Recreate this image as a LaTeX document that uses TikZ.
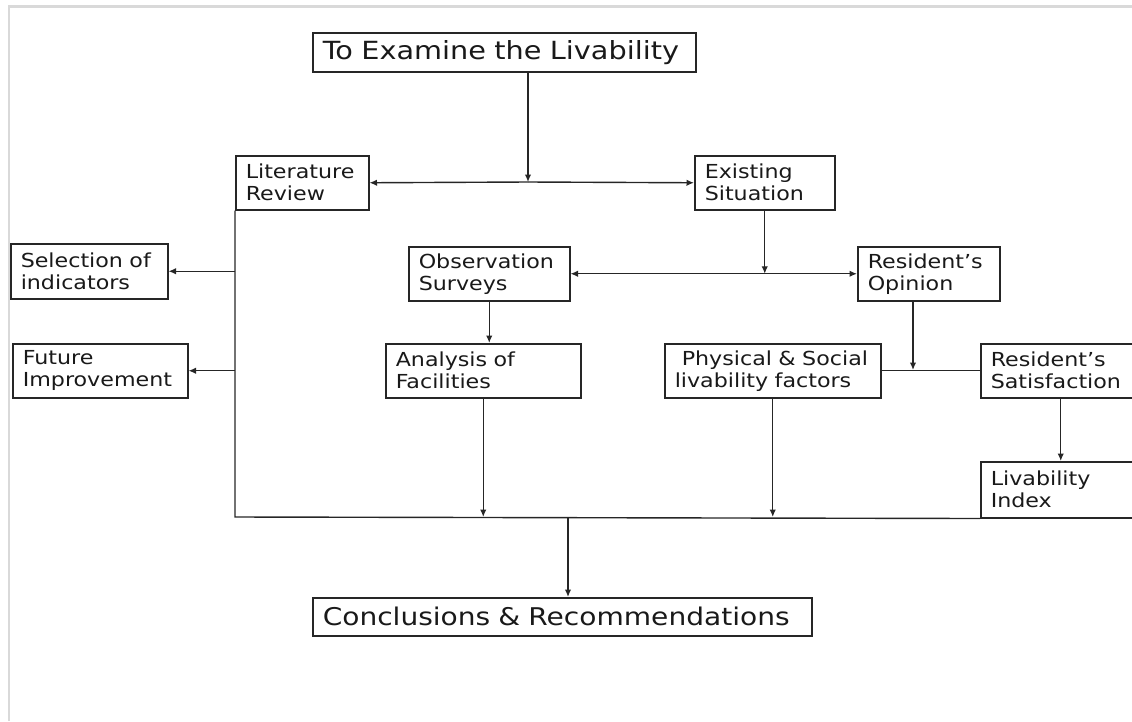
\documentclass[tikz,border=0pt]{standalone}
\usepackage{fontspec}
\setmainfont{DejaVu Sans}[FakeStretch=1.15]
\usetikzlibrary{arrows.meta}

\begin{document}
\begin{tikzpicture}[x=1pt, y=-1pt,
  box/.style={draw=black!85, line width=1.5pt, anchor=north west,
    inner xsep=10pt, inner ysep=0pt, minimum height=54pt, align=left,
    text=black!90, font=\fontsize{19.3}{22}\selectfont},
  bigbox/.style={box, minimum height=39pt, font=\fontsize{25}{29}\selectfont},
  arr/.style={-{Latex[length=7.5pt,width=6.5pt]}, line width=1.4pt, black!85},
  link/.style={line width=1.4pt, black!85}]
  \useasboundingbox (0,0) rectangle (1132,721);
  \draw[black!15, line width=2.5pt] (9,721) -- (9,6.5) -- (1132,6.5);

  \node[bigbox, text width=363pt] (goal) at (312,32) {To Examine the Livability};
  \node[box, text width=113pt] (litrev) at (235,155) {Literature\\Review};
  \node[box, text width=120pt] (exist) at (694,155) {Existing\\Situation};
  \node[box, text width=137pt, minimum height=55pt] (select) at (10,243) {Selection of\\indicators};
  \node[box, text width=155pt] (future) at (12,343) {Future\\Improvement};
  \node[box, text width=141pt] (obs) at (408,246) {Observation\\Surveys};
  \node[box, text width=122pt] (opin) at (857,246) {Resident’s\\Opinion};
  \node[box, text width=175pt] (anal) at (385,343) {Analysis of\\Facilities};
  \node[box, text width=196pt] (phys) at (664,343) {\hspace*{7pt}Physical \& Social\\livability factors};
  \node[box, text width=140pt] (satis) at (980,343) {Resident’s\\Satisfaction};
  \node[box, text width=140pt, minimum height=56pt] (index) at (980,461) {Livability\\Index};
  \node[bigbox, text width=479pt, minimum height=38pt,
    font=\fontsize{24.4}{28}\selectfont] (concl) at (312,597) {Conclusions \& Recommendations};

  \coordinate (top) at (528,182);
  \coordinate (base) at (235,517);
  \coordinate (join) at (913,370);
  \coordinate (drop) at (568,517);

  \draw[arr] (goal.south -| top) -- (top);
  \draw[arr] (top) -- (litrev.east);
  \draw[arr] (top) -- (exist.west);
  \draw[link] (litrev.south west) -- (base) -- (index.south west);
  \draw[arr] (litrev.south west |- select.east) -- (select.east);
  \draw[arr] (litrev.south west |- future.east) -- (future.east);
  \draw[arr] (exist.south) -- (exist.south |- obs.east) coordinate (mid);
  \draw[arr] (mid) -- (obs.east);
  \draw[arr] (mid) -- (opin.west);
  \draw[arr] (obs.south) -- (obs.south |- anal.north);
  \draw[link] (phys.east) -- (satis.west);
  \draw[arr] (opin.south -| join) -- (join);
  \draw[arr] (satis.south) -- (index.north);
  \draw[arr] (anal.south) -- (anal.south |- base);
  \draw[arr] (phys.south) -- (phys.south |- base);
  \draw[arr] (drop) -- (drop |- concl.north);
\end{tikzpicture}
\end{document}
